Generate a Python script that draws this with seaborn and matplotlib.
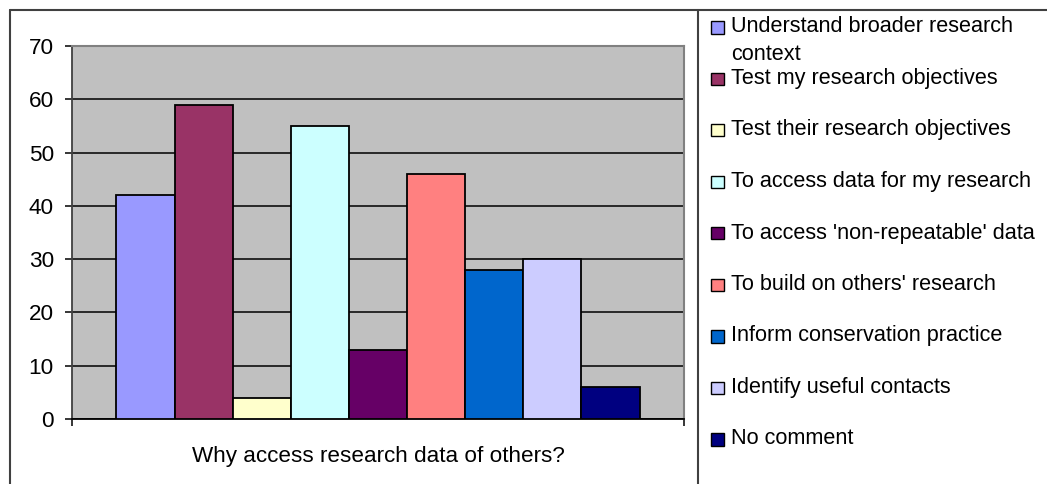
import matplotlib
matplotlib.use("Agg")
import matplotlib.pyplot as plt
import seaborn as sns
import pandas as pd
from matplotlib.lines import Line2D
from matplotlib.patches import Rectangle

# ---- data ----
question = "Why access research data of others?"
reasons = [
    "Understand broader research\ncontext",
    "Test my research objectives",
    "Test their research objectives",
    "To access data for my research",
    "To access 'non-repeatable' data",
    "To build on others' research",
    "Inform conservation practice",
    "Identify useful contacts",
    "No comment",
]
counts = [42, 59, 4, 55, 13, 46, 28, 30, 6]
colours = ["#9999FF", "#993366", "#FFFFCC", "#CCFFFF", "#660066",
           "#FF8080", "#0066CC", "#CCCCFF", "#000080"]
y_ticks = [0, 10, 20, 30, 40, 50, 60, 70]

# ---- canvas (pixel based layout) ----
W, H = 1047, 484
FS = 16.2
LEGEND_FS = 15.6

sns.set_theme(style="white")
plt.rcParams["font.family"] = ["Liberation Sans", "DejaVu Sans"]

fig = plt.figure(figsize=(W / 100, H / 100), dpi=100)
fig.patch.set_facecolor("white")


def fx(px):
    return px / W


def fy(py):
    return 1 - py / H


ax = fig.add_axes([fx(72), fy(419), (684 - 72) / W, (419 - 46) / H])

df = pd.DataFrame({"question": question, "reason": reasons, "count": counts})
sns.barplot(data=df, x="question", y="count", hue="reason", hue_order=reasons,
            palette=colours, saturation=1, width=0.855, edgecolor="black",
            linewidth=1.3, legend=False, ax=ax, zorder=3)

# plot area styling
ax.set_facecolor("#C0C0C0")
ax.set_xlim(-0.5, 0.5)
ax.set_ylim(y_ticks[0], y_ticks[-1])
ax.set_yticks(y_ticks)
ax.set_yticklabels([str(v) for v in y_ticks], fontsize=FS, color="black")
ax.yaxis.grid(True, color="black", linewidth=1.1, zorder=1)
ax.xaxis.grid(False)
ax.set_axisbelow(True)

ax.set_xticks([-0.5, 0.5])
ax.set_xticklabels(["", ""])
ax.tick_params(axis="x", bottom=True, direction="out", length=5, width=1.1,
               color="black")
ax.tick_params(axis="y", left=True, direction="out", length=5, width=1.1,
               color="black", pad=8)

ax.set_ylabel("")
ax.set_xlabel(question, fontsize=FS, color="black", labelpad=11)

for side in ("top", "right"):
    ax.spines[side].set_color("#808080")
    ax.spines[side].set_linewidth(1.5)
ax.spines["left"].set_color("#404040")
ax.spines["left"].set_linewidth(1.3)
ax.spines["bottom"].set_color("black")
ax.spines["bottom"].set_linewidth(1.3)

# chart frame and legend separator
frame_kw = dict(transform=fig.transFigure, color="#404040", linewidth=1.5)
fig.add_artist(Line2D([fx(10), fx(10)], [0, fy(10)], **frame_kw))
fig.add_artist(Line2D([fx(10), 1], [fy(10), fy(10)], **frame_kw))
fig.add_artist(Line2D([fx(698), fx(698)], [0, fy(10)], **frame_kw))

# legend entries
for i, (label, colour) in enumerate(zip(reasons, colours)):
    cy = 27 + 51.5 * i
    fig.add_artist(Rectangle((fx(711), fy(cy + 6.5)), 12.5 / W, 12.5 / H,
                             transform=fig.transFigure, facecolor=colour,
                             edgecolor="black", linewidth=1.0))
    for j, line in enumerate(label.split("\n")):
        fig.text(fx(731), fy(cy + 5.5 + 27.7 * j), line, fontsize=LEGEND_FS,
                 color="black", va="baseline", ha="left")

fig.savefig("out.png", dpi=100)
